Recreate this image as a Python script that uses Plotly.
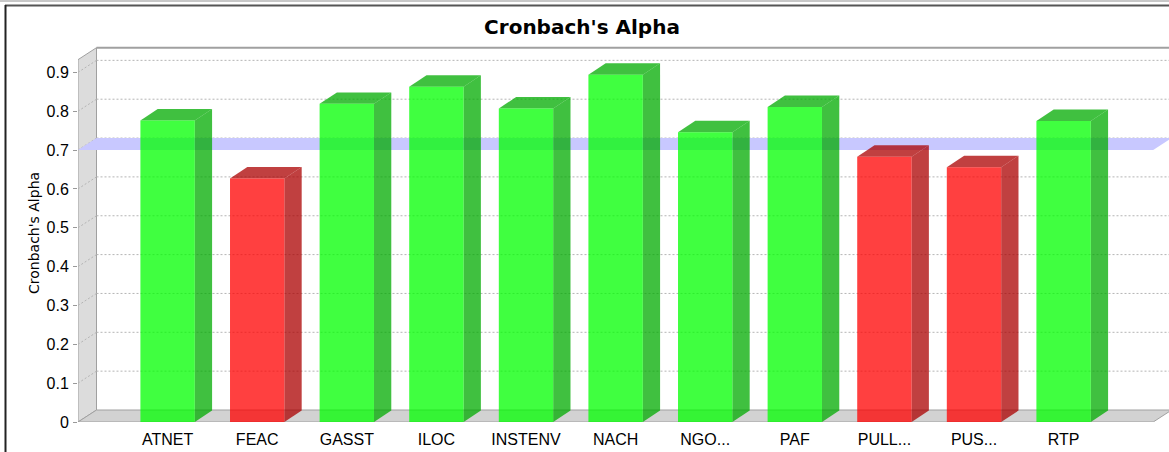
import plotly.graph_objects as go

# ---------------- data ----------------
categories = ["ATNET", "FEAC", "GASST", "ILOC", "INSTENV", "NACH",
              "NGO...", "PAF", "PULL...", "PUS...", "RTP"]
alpha_values = [0.776, 0.627, 0.819, 0.863, 0.807, 0.894,
                0.746, 0.811, 0.683, 0.656, 0.775]
threshold = 0.7
y_tick_values = [0, 0.1, 0.2, 0.3, 0.4, 0.5, 0.6, 0.7, 0.8, 0.9]
y_tick_labels = ["0", "0.1", "0.2", "0.3", "0.4", "0.5", "0.6", "0.7", "0.8", "0.9"]

# ---------------- layout constants ----------------
W, H = 1169, 452
ML, MR, MT, MB = 78, 0, 46, 30
PX_PER_X = 89.6          # pixels per category unit
PX_PER_Y = 388.5         # pixels per 1.0 alpha
X_MAX = (W - ML - MR) / PX_PER_X
Y_MAX = (H - MT - MB) / PX_PER_Y
AXIS_TOP = 0.9326
DX_WALL, DY_WALL = 18.5 / PX_PER_X, 12.0 / PX_PER_Y
DX_BAR, DY_BAR = 17.3 / PX_PER_X, 11.4 / PX_PER_Y
BAR_W = 0.607
N_SLOTS = len(categories) + 1

GREEN_FRONT, GREEN_SIDE = "rgba(0,255,0,0.75)", "rgba(0,171,0,0.75)"
RED_FRONT, RED_SIDE = "rgba(255,0,0,0.75)", "rgba(171,0,0,0.75)"
GRID = "#b4b4b4"
WALL_LINE = "#a0a0a0"

x_pos = list(range(1, len(categories) + 1))
front_cols = [GREEN_FRONT if v >= threshold else RED_FRONT for v in alpha_values]
side_cols = [GREEN_SIDE if v >= threshold else RED_SIDE for v in alpha_values]


def ppx(px):
    return (px - ML) / (W - ML - MR)


def ppy(py):
    return (H - MB - py) / (H - MT - MB)


shapes = []
# left side wall
shapes.append(dict(type="path", layer="below", xref="x", yref="y",
                   path=f"M 0,0 L 0,{AXIS_TOP} L {DX_WALL},{AXIS_TOP + DY_WALL} L {DX_WALL},{DY_WALL} Z",
                   fillcolor="#dcdcdc", line=dict(color=WALL_LINE, width=1)))
# floor
shapes.append(dict(type="path", layer="below", xref="x", yref="y",
                   path=f"M 0,0 L {N_SLOTS},0 L {N_SLOTS + DX_WALL},{DY_WALL} L {DX_WALL},{DY_WALL} Z",
                   fillcolor="#d2d2d2", line=dict(color=WALL_LINE, width=1)))
# back wall top border
shapes.append(dict(type="line", layer="below", xref="x", yref="y",
                   x0=DX_WALL, x1=X_MAX + 1, y0=AXIS_TOP + DY_WALL, y1=AXIS_TOP + DY_WALL,
                   line=dict(color=WALL_LINE, width=2)))
# gridlines on back wall and side wall
for v in y_tick_values[1:]:
    shapes.append(dict(type="line", layer="below", xref="x", yref="y",
                       x0=DX_WALL, x1=X_MAX + 1, y0=v + DY_WALL, y1=v + DY_WALL,
                       line=dict(color=GRID, width=1, dash="2px,2px")))
    shapes.append(dict(type="line", layer="below", xref="x", yref="y",
                       x0=0, x1=DX_WALL, y0=v, y1=v + DY_WALL,
                       line=dict(color=GRID, width=1, dash="2px,2px")))
# threshold strip (horizontal plane at 0.7)
shapes.append(dict(type="path", layer="below", xref="x", yref="y",
                   path=(f"M 0,{threshold} L {N_SLOTS},{threshold} "
                         f"L {N_SLOTS + DX_WALL},{threshold + DY_WALL} L {DX_WALL},{threshold + DY_WALL} Z"),
                   fillcolor="#c8c8ff", line=dict(width=0)))
# 3D faces of bars
for xc, v, sc in zip(x_pos, alpha_values, side_cols):
    xl, xr = xc - BAR_W / 2, xc + BAR_W / 2
    shapes.append(dict(type="path", layer="below", xref="x", yref="y",
                       path=f"M {xr},0 L {xr + DX_BAR},{DY_BAR} L {xr + DX_BAR},{v + DY_BAR} L {xr},{v} Z",
                       fillcolor=sc, line=dict(width=0)))
    shapes.append(dict(type="path", layer="below", xref="x", yref="y",
                       path=f"M {xl},{v} L {xr},{v} L {xr + DX_BAR},{v + DY_BAR} L {xl + DX_BAR},{v + DY_BAR} Z",
                       fillcolor=sc, line=dict(width=0)))
# window frame
shapes.append(dict(type="line", xref="paper", yref="paper", x0=ppx(0), x1=ppx(W), y0=ppy(1), y1=ppy(1),
                   line=dict(color="#c8c8c8", width=2)))
shapes.append(dict(type="line", xref="paper", yref="paper", x0=ppx(5), x1=ppx(W), y0=ppy(5.5), y1=ppy(5.5),
                   line=dict(color="#555555", width=2)))
shapes.append(dict(type="line", xref="paper", yref="paper", x0=ppx(5.5), x1=ppx(5.5), y0=ppy(5), y1=ppy(H),
                   line=dict(color="#222222", width=2)))

fig = go.Figure()
fig.add_trace(go.Bar(x=x_pos, y=alpha_values, width=BAR_W,
                     marker=dict(color=front_cols, line=dict(width=0)),
                     hoverinfo="skip", showlegend=False))

fig.update_layout(
    width=W, height=H, autosize=False,
    margin=dict(l=ML, r=MR, t=MT, b=MB, pad=0),
    paper_bgcolor="white", plot_bgcolor="white",
    showlegend=False,
    title=dict(text="<b>Cronbach's Alpha</b>", x=582 / W, xref="container", xanchor="center",
               y=1 - 27 / H, yref="container", yanchor="middle",
               font=dict(family="DejaVu Sans", size=20, color="black")),
    xaxis=dict(range=[0, X_MAX], tickvals=x_pos, ticktext=categories,
               showgrid=False, zeroline=False, showline=False,
               ticks="outside", ticklen=3, tickcolor="rgba(0,0,0,0)",
               tickfont=dict(family="Liberation Sans", size=16, color="black")),
    yaxis=dict(range=[0, Y_MAX], tickvals=y_tick_values, ticktext=y_tick_labels,
               showgrid=False, zeroline=False, showline=False,
               ticks="outside", ticklen=4, tickcolor="#999999", ticklabelstandoff=1,
               tickfont=dict(family="Liberation Sans", size=16, color="black")),
    shapes=shapes,
    annotations=[dict(text="Cronbach's Alpha", textangle=-90, xref="paper", yref="paper",
                      x=ppx(34), y=ppy(233), xanchor="center", yanchor="middle", showarrow=False,
                      font=dict(family="DejaVu Sans", size=14, color="black"))],
)

fig.write_html("out.html", config={"displayModeBar": False},
               post_script="document.body.style.margin='0px';")
